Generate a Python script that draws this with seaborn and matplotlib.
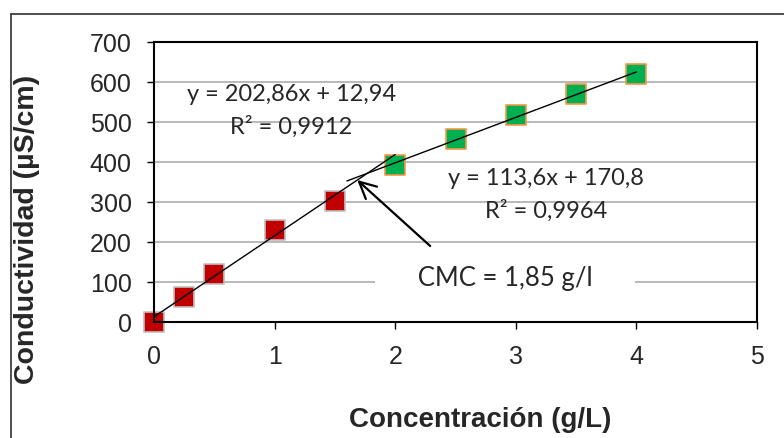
import numpy as np
import pandas as pd
import matplotlib
matplotlib.use('Agg')
import matplotlib.pyplot as plt
from matplotlib.lines import Line2D
import seaborn as sns

# data
conc_pre = [0, 0.25, 0.5, 1, 1.5]
cond_pre = [0, 62, 120, 230, 303]
conc_post = [2, 2.5, 3, 3.5, 4]
cond_post = [392, 458, 517, 570, 620]

# trend lines (coefficients from the chart labels)
fit_pre = (202.86, 12.94)
fit_post = (113.6, 170.8)
fit_pre_range = [0, 2]
fit_post_range = [1.6, 4]

x_ticks = [0, 1, 2, 3, 4, 5]
y_ticks = [0, 100, 200, 300, 400, 500, 600, 700]

sns.set_style('white')
plt.rcParams['font.family'] = ['Liberation Sans', 'DejaVu Sans']
NOTE_FONT = ['Lato', 'DejaVu Sans']

fig = plt.figure(figsize=(7.84, 4.39), dpi=100)
ax = fig.add_axes([154 / 784, 1 - 323 / 439, (757 - 154) / 784, (323 - 43) / 439])

# outer chart frame (top and left edges, the rest is cut off)
frame_x = 10.5 / 784
frame_y = 1 - 14.5 / 439
fig.add_artist(Line2D([frame_x, 1.0], [frame_y, frame_y], transform=fig.transFigure,
                      color='#404040', lw=1.3))
fig.add_artist(Line2D([frame_x, frame_x], [0.0, frame_y], transform=fig.transFigure,
                      color='#404040', lw=1.3))

ax.set_xlim(0, 5)
ax.set_ylim(0, 700)
ax.set_xticks(x_ticks)
ax.set_yticks(y_ticks)
ax.grid(axis='y', color='#A6A6A6', lw=1.1)
ax.set_axisbelow(True)

for x_rng, (m, b) in [(fit_pre_range, fit_pre), (fit_post_range, fit_post)]:
    xs = np.array(x_rng, dtype=float)
    sns.lineplot(x=xs, y=m * xs + b, color='black', lw=1.0, ax=ax, zorder=3)

df_pre = pd.DataFrame({'x': conc_pre, 'y': cond_pre})
df_post = pd.DataFrame({'x': conc_post, 'y': cond_post})
sns.scatterplot(data=df_pre, x='x', y='y', marker='s', s=200, color='#C00000',
                edgecolor='#BFBFBF', linewidth=1.2, ax=ax, zorder=2, clip_on=False)
sns.scatterplot(data=df_post, x='x', y='y', marker='s', s=200, color='#00B050',
                edgecolor='#F79646', linewidth=1.2, ax=ax, zorder=2, clip_on=False)

for sp in ax.spines.values():
    sp.set_visible(True)
    sp.set_color('black')
    sp.set_linewidth(1.5)

ax.tick_params(axis='both', direction='out', length=5, width=1, color='black',
               pad=11, labelsize=18, bottom=True, left=True)

ax.set_xlabel('Concentración (g/L)', fontsize=20, fontweight='bold')
ax.set_ylabel('Conductividad (µS/cm)', fontsize=20.5, fontweight='bold')
ax.xaxis.label.set_va('baseline')
ax.xaxis.set_label_coords((480 - 154) / 603, (323 - 427) / 280)
ax.yaxis.label.set_va('baseline')
ax.yaxis.set_label_coords((34 - 154) / 603, (323 - 229) / 280)

# regression labels
ax.text(1.14, 570, 'y = 202,86x + 12,94', ha='center', va='center',
        fontsize=17, family=NOTE_FONT)
ax.text(1.14, 490, 'R² = 0,9912', ha='center', va='center',
        fontsize=17, family=NOTE_FONT)
ax.text(3.25, 362, 'y = 113,6x + 170,8', ha='center', va='center',
        fontsize=17, family=NOTE_FONT)
ax.text(3.25, 280, 'R² = 0,9964', ha='center', va='center',
        fontsize=17, family=NOTE_FONT)

# CMC callout
ax.annotate('', xy=(1.685, 355), xytext=(2.29, 190),
            arrowprops=dict(arrowstyle='->', lw=1.6, color='black',
                            mutation_scale=30, shrinkA=0, shrinkB=0), zorder=4)
ax.text(2.91, 112, '      CMC = 1,85 g/l      ', ha='center', va='center',
        fontsize=18.5, family=NOTE_FONT,
        bbox=dict(facecolor='white', edgecolor='none', pad=2), zorder=4)

fig.savefig('out.png', dpi=100)
